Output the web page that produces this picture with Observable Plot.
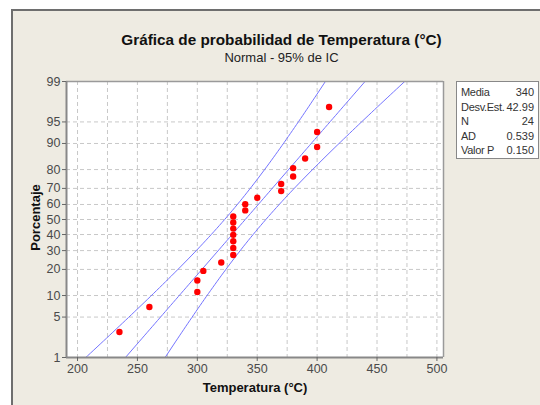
<!DOCTYPE html>
<html><head><meta charset="utf-8">
<script src="https://cdn.jsdelivr.net/npm/d3@7"></script>
<script src="https://cdn.jsdelivr.net/npm/@observablehq/plot@0.6"></script>
<style>
body{margin:0;background:#fff;}
#wrap{position:relative;width:540px;height:405px;overflow:hidden;font-family:"Liberation Sans",Arial,sans-serif;}
#panel{position:absolute;left:11px;top:9px;width:560px;height:420px;background:#EEEBE2;border:2px solid #6e6e6e;}
#chart{position:absolute;left:0;top:0;}
#title{position:absolute;left:0;width:563px;top:31px;text-align:center;font-weight:bold;font-size:15.3px;color:#111;}
#subtitle{position:absolute;left:0;width:563px;top:50px;text-align:center;font-size:13px;color:#222;}
#xlabel{position:absolute;left:155px;width:200px;top:380px;text-align:center;font-weight:bold;font-size:13px;color:#111;}
#ylabel{position:absolute;left:-65px;width:200px;top:210px;text-align:center;font-weight:bold;font-size:13px;color:#111;transform:rotate(-90deg);}
#legend{position:absolute;left:456px;top:81px;width:81px;height:76px;background:#fff;border:1px solid #888;font-size:11px;color:#333;}
#legend .row{position:absolute;left:4px;right:4px;height:14px;line-height:14px;}
#legend .row span.l{letter-spacing:-0.3px;}
#legend .row span.v{position:absolute;right:0;}
</style></head>
<body>
<div id="wrap">
  <div id="panel"></div>
  <div id="chart"></div>
  <div id="title"></div>
  <div id="subtitle"></div>
  <div id="xlabel"></div>
  <div id="ylabel"></div>
  <div id="legend"></div>
</div>
<script>
// ---- data ----
const temperatures = [235,260,300,300,305,320,330,330,330,330,330,330,330,340,340,350,370,370,380,380,390,400,400,410];
const percents = [2.9,7.0,11.1,15.2,19.3,23.4,27.5,31.6,35.7,39.8,43.9,48.0,52.0,56.1,60.2,64.3,68.4,72.5,76.6,80.7,84.8,88.9,93.0,97.1];
const xTicks = [200,250,300,350,400,450,500];
const xGrid = [200,225,250,275,300,325,350,375,400,425,450,475,500];
const yTicks = [1,5,10,20,30,40,50,60,70,80,90,95,99];
const statLabels = ["Media","Desv.Est.","N","AD","Valor P"];
const statValues = ["340","42.99","24","0.539","0.150"];
const mean = 340, sd = 42.99, n = 24, conf = 1.96;
const titleText = "Gráfica de probabilidad de Temperatura (°C)";
const subtitleText = "Normal - 95% de IC";
const xLabelText = "Temperatura (°C)";
const yLabelText = "Porcentaje";

// inverse normal CDF (Acklam)
function probit(p){
  const a=[-3.969683028665376e+01,2.209460984245205e+02,-2.759285104469687e+02,1.383577518672690e+02,-3.066479806614716e+01,2.506628277459239e+00];
  const b=[-5.447609879822406e+01,1.615858368580409e+02,-1.556989798598866e+02,6.680131188771972e+01,-1.328068155288572e+01];
  const c=[-7.784894002430293e-03,-3.223964580411365e-01,-2.400758277161838e+00,-2.549671034971540e+00,4.374664141464968e+00,2.938163982698783e+00];
  const d=[7.784695709041462e-03,3.224671290700398e-01,2.445134137142996e+00,3.754408661907416e+00];
  const pl=0.02425, ph=1-pl;
  let q,r;
  if(p<pl){q=Math.sqrt(-2*Math.log(p));return (((((c[0]*q+c[1])*q+c[2])*q+c[3])*q+c[4])*q+c[5])/((((d[0]*q+d[1])*q+d[2])*q+d[3])*q+1);}
  if(p<=ph){q=p-0.5;r=q*q;return (((((a[0]*r+a[1])*r+a[2])*r+a[3])*r+a[4])*r+a[5])*q/(((((b[0]*r+b[1])*r+b[2])*r+b[3])*r+b[4])*r+1);}
  q=Math.sqrt(-2*Math.log(1-p));return -(((((c[0]*q+c[1])*q+c[2])*q+c[3])*q+c[4])*q+c[5])/((((d[0]*q+d[1])*q+d[2])*q+d[3])*q+1);
}

const points = temperatures.map((t,i)=>({t, z: probit(percents[i]/100)}));
// fitted line and 95% CI from the displayed parameters
const zs = d3.range(-2.8, 2.81, 0.05);
const fit = zs.map(z=>({z, x: mean + z*sd}));
const half = z => conf*sd*Math.sqrt(1/n + z*z/(2*n));
const lower = zs.map(z=>({z, x: mean + z*sd - half(z)}));
const upper = zs.map(z=>({z, x: mean + z*sd + half(z)}));

const xDom = [190.8, 505.5];
const yDom = [probit(0.01), probit(0.99)];
const gridStyle = {stroke:"#c8c8c8", strokeOpacity:1, strokeDasharray:"4,3"};
const lineStyle = {stroke:"#7474ff", strokeWidth:1, clip:true};

const chart = Plot.plot({
  width:540, height:405,
  marginLeft:66, marginRight:97, marginTop:81, marginBottom:48,
  style:{background:"transparent", fontFamily:"'Liberation Sans',Arial,sans-serif", fontSize:"12.5px", color:"#4a4a4a"},
  x:{domain:xDom, label:null},
  y:{domain:yDom, label:null},
  marks:[
    Plot.frame({fill:"white", stroke:"none"}),
    Plot.ruleX(xGrid, {...gridStyle}),
    Plot.ruleY(yTicks.slice(1,-1), {y:d=>probit(d/100), ...gridStyle}),
    Plot.line(lower, {x:"x", y:"z", ...lineStyle}),
    Plot.line(fit, {x:"x", y:"z", ...lineStyle}),
    Plot.line(upper, {x:"x", y:"z", ...lineStyle}),
    Plot.dot(points, {x:"t", y:"z", r:3.2, fill:"#ff0000", stroke:"none"}),
    Plot.ruleY([yDom[1]], {stroke:"#9a9a9a", strokeWidth:1.5}),
    Plot.ruleX([xDom[1]], {stroke:"#9a9a9a", strokeWidth:1.5}),
    Plot.ruleX([xDom[0]], {stroke:"#888", strokeWidth:2}),
    Plot.ruleY([yDom[0]], {stroke:"#888", strokeWidth:2}),
    Plot.axisX({ticks:xTicks, tickSize:4, tickPadding:3, stroke:"#666", label:null}),
    Plot.axisY({ticks:yTicks.map(v=>probit(v/100)), tickSize:4, tickPadding:2, stroke:"#666", label:null,
      tickFormat: z => String(yTicks.find(t=>Math.abs(probit(t/100)-z)<1e-9))})
  ]
});
document.getElementById("chart").appendChild(chart);
document.getElementById("title").textContent = titleText;
document.getElementById("subtitle").textContent = subtitleText;
document.getElementById("xlabel").textContent = xLabelText;
document.getElementById("ylabel").textContent = yLabelText;
const leg = document.getElementById("legend");
statLabels.forEach((l,i)=>{
  const row = document.createElement("div");
  row.className="row";
  row.style.top = (3 + i*14.5) + "px";
  const a=document.createElement("span"); a.className="l"; a.textContent=l;
  const b=document.createElement("span"); b.className="v"; b.textContent=statValues[i];
  row.appendChild(a); row.appendChild(b); leg.appendChild(row);
});
</script>
</body></html>
